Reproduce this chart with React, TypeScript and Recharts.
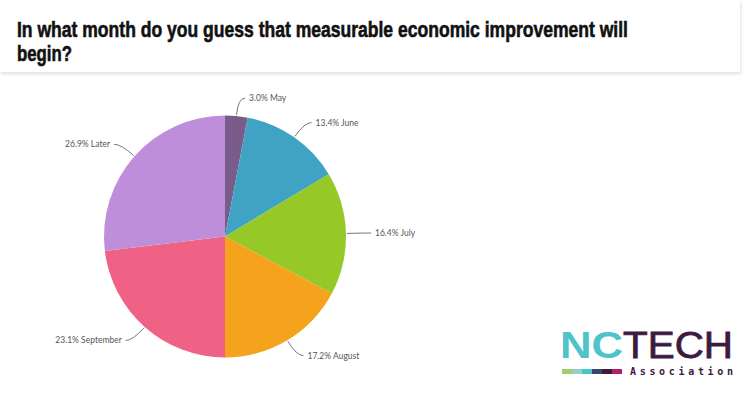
import { PieChart, Pie, Cell } from 'recharts';

const months = ['May', 'June', 'July', 'August', 'September', 'Later'];
const shares = [3.0, 13.4, 16.4, 17.2, 23.1, 26.9];
const sliceColors = ['#7a5c8a', '#40a3c4', '#96c828', '#f5a21c', '#ef6286', '#be8edb'];
const logoBar = ['#a6cc6a', '#8fd3c8', '#4ec3c9', '#34466e', '#3d1a40', '#b0206e'];

const data = months.map((name, i) => ({ name, value: shares[i] }));

const RAD = Math.PI / 180;
const SQUEEZE = 0.72;

function renderLabel(props: any) {
  const { cx, cy, midAngle, outerRadius, payload, value } = props;
  const sin = Math.sin(-midAngle * RAD);
  const cos = Math.cos(-midAngle * RAD);
  const sx = cx + (outerRadius + 1) * cos;
  const sy = cy + (outerRadius + 1) * sin;
  const mx = cx + (outerRadius + 18) * cos;
  const my = cy + (outerRadius + 18) * sin;
  const right = cos >= 0;
  const ex = mx + (right ? 7 : -7);
  const tx = ex + (right ? 4 : -4);
  return (
    <g>
      <path d={`M${sx},${sy} Q${mx},${my} ${ex},${my}`} stroke="#777" strokeWidth={1} fill="none" />
      <text
        x={tx}
        y={my}
        textAnchor={right ? 'start' : 'end'}
        dominantBaseline="central"
        fontFamily="Lato, sans-serif"
        fontSize={8.5}
        fill="#555"
      >
        {`${value.toFixed(1)}% ${payload.name}`}
      </text>
    </g>
  );
}

export default function App() {
  const titleFont = {
    fontFamily: "'Liberation Sans', Arial, sans-serif",
    fontWeight: 'bold' as const,
    fontSize: 22,
    fill: '#111',
    stroke: '#111',
    strokeWidth: 0.6,
  };
  return (
    <div style={{ position: 'absolute', left: 0, top: 0, width: 750, height: 394, background: '#fff', overflow: 'hidden' }}>
      <div
        style={{
          position: 'absolute',
          left: 0,
          top: 0,
          width: 740,
          height: 72,
          background: '#fff',
          boxShadow: '1px 2px 3px rgba(0,0,0,0.12)',
        }}
      />
      <svg width={750} height={80} style={{ position: 'absolute', left: 0, top: 0 }}>
        <g transform={`translate(17,37) scale(${SQUEEZE},1)`}>
          <text x={0} y={0} {...titleFont} textLength={611 / SQUEEZE} lengthAdjust="spacingAndGlyphs">
            In what month do you guess that measurable economic improvement will
          </text>
        </g>
        <g transform={`translate(17,61) scale(${SQUEEZE},1)`}>
          <text x={0} y={0} {...titleFont} textLength={55 / SQUEEZE} lengthAdjust="spacingAndGlyphs">
            begin?
          </text>
        </g>
      </svg>
      <div style={{ position: 'absolute', left: 0, top: 0 }}>
        <PieChart width={750} height={394} margin={{ top: 0, right: 0, bottom: 0, left: 0 }}>
          <Pie
            data={data}
            dataKey="value"
            nameKey="name"
            cx={225}
            cy={236.5}
            outerRadius={121}
            startAngle={90}
            endAngle={-270}
            stroke="none"
            label={renderLabel}
            labelLine={false}
            isAnimationActive={false}
          >
            {data.map((d, i) => (
              <Cell key={d.name} fill={sliceColors[i]} />
            ))}
          </Pie>
        </PieChart>
      </div>
      <svg width={200} height={80} style={{ position: 'absolute', left: 550, top: 314 }}>
        <text x={10} y={44} fontFamily="'Liberation Sans', Arial, sans-serif" fontWeight="bold" fontSize={36} fill="#4ec3c9" textLength={63} lengthAdjust="spacingAndGlyphs">
          NC
        </text>
        <text x={73} y={44} fontFamily="'Liberation Sans', Arial, sans-serif" fontSize={36} fill="#3d1a40" stroke="#3d1a40" strokeWidth={0.8} textLength={110} lengthAdjust="spacingAndGlyphs">
          TECH
        </text>
        {logoBar.map((c, i) => (
          <rect key={c} x={12 + i * 10} y={55} width={10} height={5} fill={c} />
        ))}
        <text x={80} y={61} fontFamily="'DejaVu Sans Mono', monospace" fontWeight="bold" fontSize={10} fill="#3d1a40" textLength={103} lengthAdjust="spacing">
          Association
        </text>
      </svg>
    </div>
  );
}
